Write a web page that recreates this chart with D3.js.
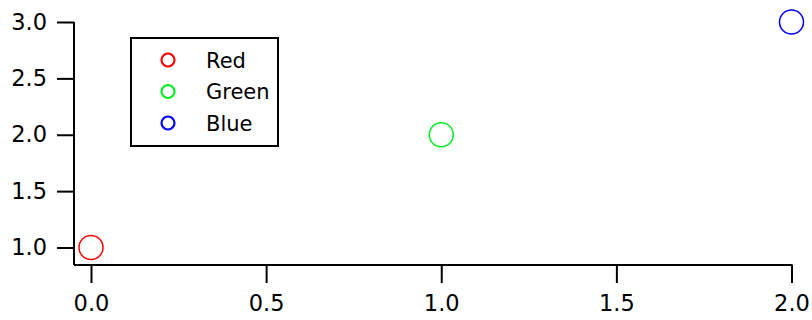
<!DOCTYPE html>
<html><head><meta charset="utf-8">
<script src="https://cdn.jsdelivr.net/npm/d3@7"></script>
<style>body{margin:0;background:#fff}svg{display:block}text{font-family:"DejaVu Sans",sans-serif}</style>
</head><body><svg id="c" width="812" height="320"></svg>
<script>
const names = ["Red","Green","Blue"];
const xValues = [0, 1, 2];
const yValues = [1, 2, 3];
const colors = ["#ff0000","#00ee22","#0000ff"];
const xTicks = [0, 0.5, 1, 1.5, 2];
const yTicks = [1, 1.5, 2, 2.5, 3];

const svg = d3.select("#c");
const x = d3.scaleLinear().domain([0, 2]).range([91, 791.5]);
const y = d3.scaleLinear().domain([1, 3]).range([247.5, 22]);
const left = 74, bottom = 265;

const xAxis = svg.append("g").attr("transform", `translate(0,${bottom})`)
  .call(d3.axisBottom(x).tickValues(xTicks).tickFormat(d3.format(".1f")).tickSize(18).tickPadding(12));
const yAxis = svg.append("g").attr("transform", `translate(${left},0)`)
  .call(d3.axisLeft(y).tickValues(yTicks).tickFormat(d3.format(".1f")).tickSize(17).tickPadding(10));
xAxis.select(".domain").attr("d", `M${left},0H${x(2)+1}`);
yAxis.select(".domain").attr("d", `M0,${y(3)}V${bottom}`);
[xAxis, yAxis].forEach(g => {
  g.selectAll("path,line").attr("stroke", "#000").attr("stroke-width", 2);
  g.selectAll("text").attr("fill", "#000").style("font-size", "22.5px").style("font-family", "'DejaVu Sans',sans-serif");
});

svg.append("g").selectAll("circle").data(names).join("circle")
  .attr("cx", (d,i) => x(xValues[i])).attr("cy", (d,i) => y(yValues[i]))
  .attr("r", 12).attr("fill", "none").attr("stroke", (d,i) => colors[i]).attr("stroke-width", 1.5);

const lg = svg.append("g");
lg.append("rect").attr("x", 131).attr("y", 38).attr("width", 147).attr("height", 108)
  .attr("fill", "#fff").attr("stroke", "#000").attr("stroke-width", 2);
names.forEach((n, i) => {
  const cy = 60 + i * 31.5;
  lg.append("circle").attr("cx", 168).attr("cy", cy).attr("r", 6.5)
    .attr("fill", "none").attr("stroke", colors[i]).attr("stroke-width", 2.2);
  lg.append("text").attr("x", 206).attr("y", cy).attr("dy", "0.36em")
    .style("font-size", "21px").attr("fill", "#000").text(n);
});
</script></body></html>
